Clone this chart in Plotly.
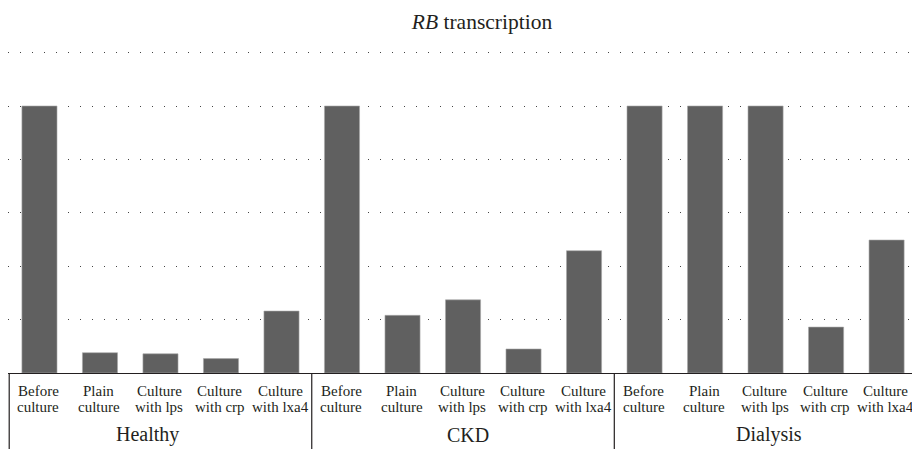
import plotly.graph_objects as go

groups = ["Healthy", "CKD", "Dialysis"]
conditions = ["Before culture", "Plain culture", "Culture with lps", "Culture with crp", "Culture with lxa4"]
label_line1 = ["Before", "Plain", "Culture", "Culture", "Culture"]
label_line2 = ["culture", "culture", "with lps", "with crp", "with lxa4"]

healthy = [5.0, 0.38, 0.36, 0.27, 1.16]
ckd = [5.0, 1.08, 1.37, 0.45, 2.29]
dialysis = [5.0, 5.0, 5.0, 0.86, 2.49]

grid_vals = [1, 2, 3, 4, 5, 6]

values = healthy + ckd + dialysis
keys = [f"{g}|{c}" for g in groups for c in conditions]

FONT = "Liberation Serif"
TXT = "#231f20"

fig = go.Figure()
fig.add_trace(go.Bar(
    x=keys, y=values, width=0.58,
    marker=dict(color="#606060", line=dict(color="#a8a8a8", width=0.6)),
    showlegend=False, hoverinfo="x+y",
))

ann = []
for i, k in enumerate(keys):
    j = i % 5
    ann.append(dict(x=k, xref="x", y=-0.056, yref="paper", text=label_line1[j],
                    showarrow=False, yanchor="middle", xanchor="center", xshift=-1,
                    font=dict(family=FONT, size=15, color=TXT)))
    ann.append(dict(x=k, xref="x", y=-0.105, yref="paper", text=label_line2[j],
                    showarrow=False, yanchor="middle", xanchor="center", xshift=-1,
                    font=dict(family=FONT, size=15, color=TXT)))

group_shift = [-13, 5, 3]
for gi, g in enumerate(groups):
    ann.append(dict(x=keys[gi * 5 + 2], xref="x", y=-0.192, yref="paper", text=g,
                    showarrow=False, yanchor="middle", xanchor="center",
                    xshift=group_shift[gi],
                    font=dict(family=FONT, size=20, color=TXT)))

shapes = []
for gi in range(len(groups)):
    xpos = gi * 5 - 0.5
    shapes.append(dict(type="line", xref="x", yref="paper", x0=xpos, x1=xpos,
                       y0=0, y1=-0.26, line=dict(color="#231f20", width=1.2)))

fig.update_layout(
    width=912, height=449,
    margin=dict(l=8, r=0, t=51, b=76),
    plot_bgcolor="white", paper_bgcolor="white",
    title=dict(text="<i>RB</i> transcription", xref="container", yref="container",
               x=0.5285, y=0.953, xanchor="center", yanchor="middle",
               font=dict(family=FONT, size=21.5, color=TXT)),
    xaxis=dict(type="category", range=[-0.52, 14.42], showticklabels=False,
               ticks="", showgrid=False, showline=True, linecolor="#231f20",
               linewidth=1.2, zeroline=False, fixedrange=True),
    yaxis=dict(range=[0, 6.03], tickvals=grid_vals, showticklabels=False, ticks="",
               showgrid=True, gridcolor="#444444", gridwidth=1, griddash="1px,11px",
               zeroline=False, showline=False, fixedrange=True),
    annotations=ann,
    shapes=shapes,
    bargap=0.42,
)

fig.write_html("out.html", config={"displayModeBar": False},
               post_script="document.body.style.margin='0';document.body.style.overflow='hidden';")
